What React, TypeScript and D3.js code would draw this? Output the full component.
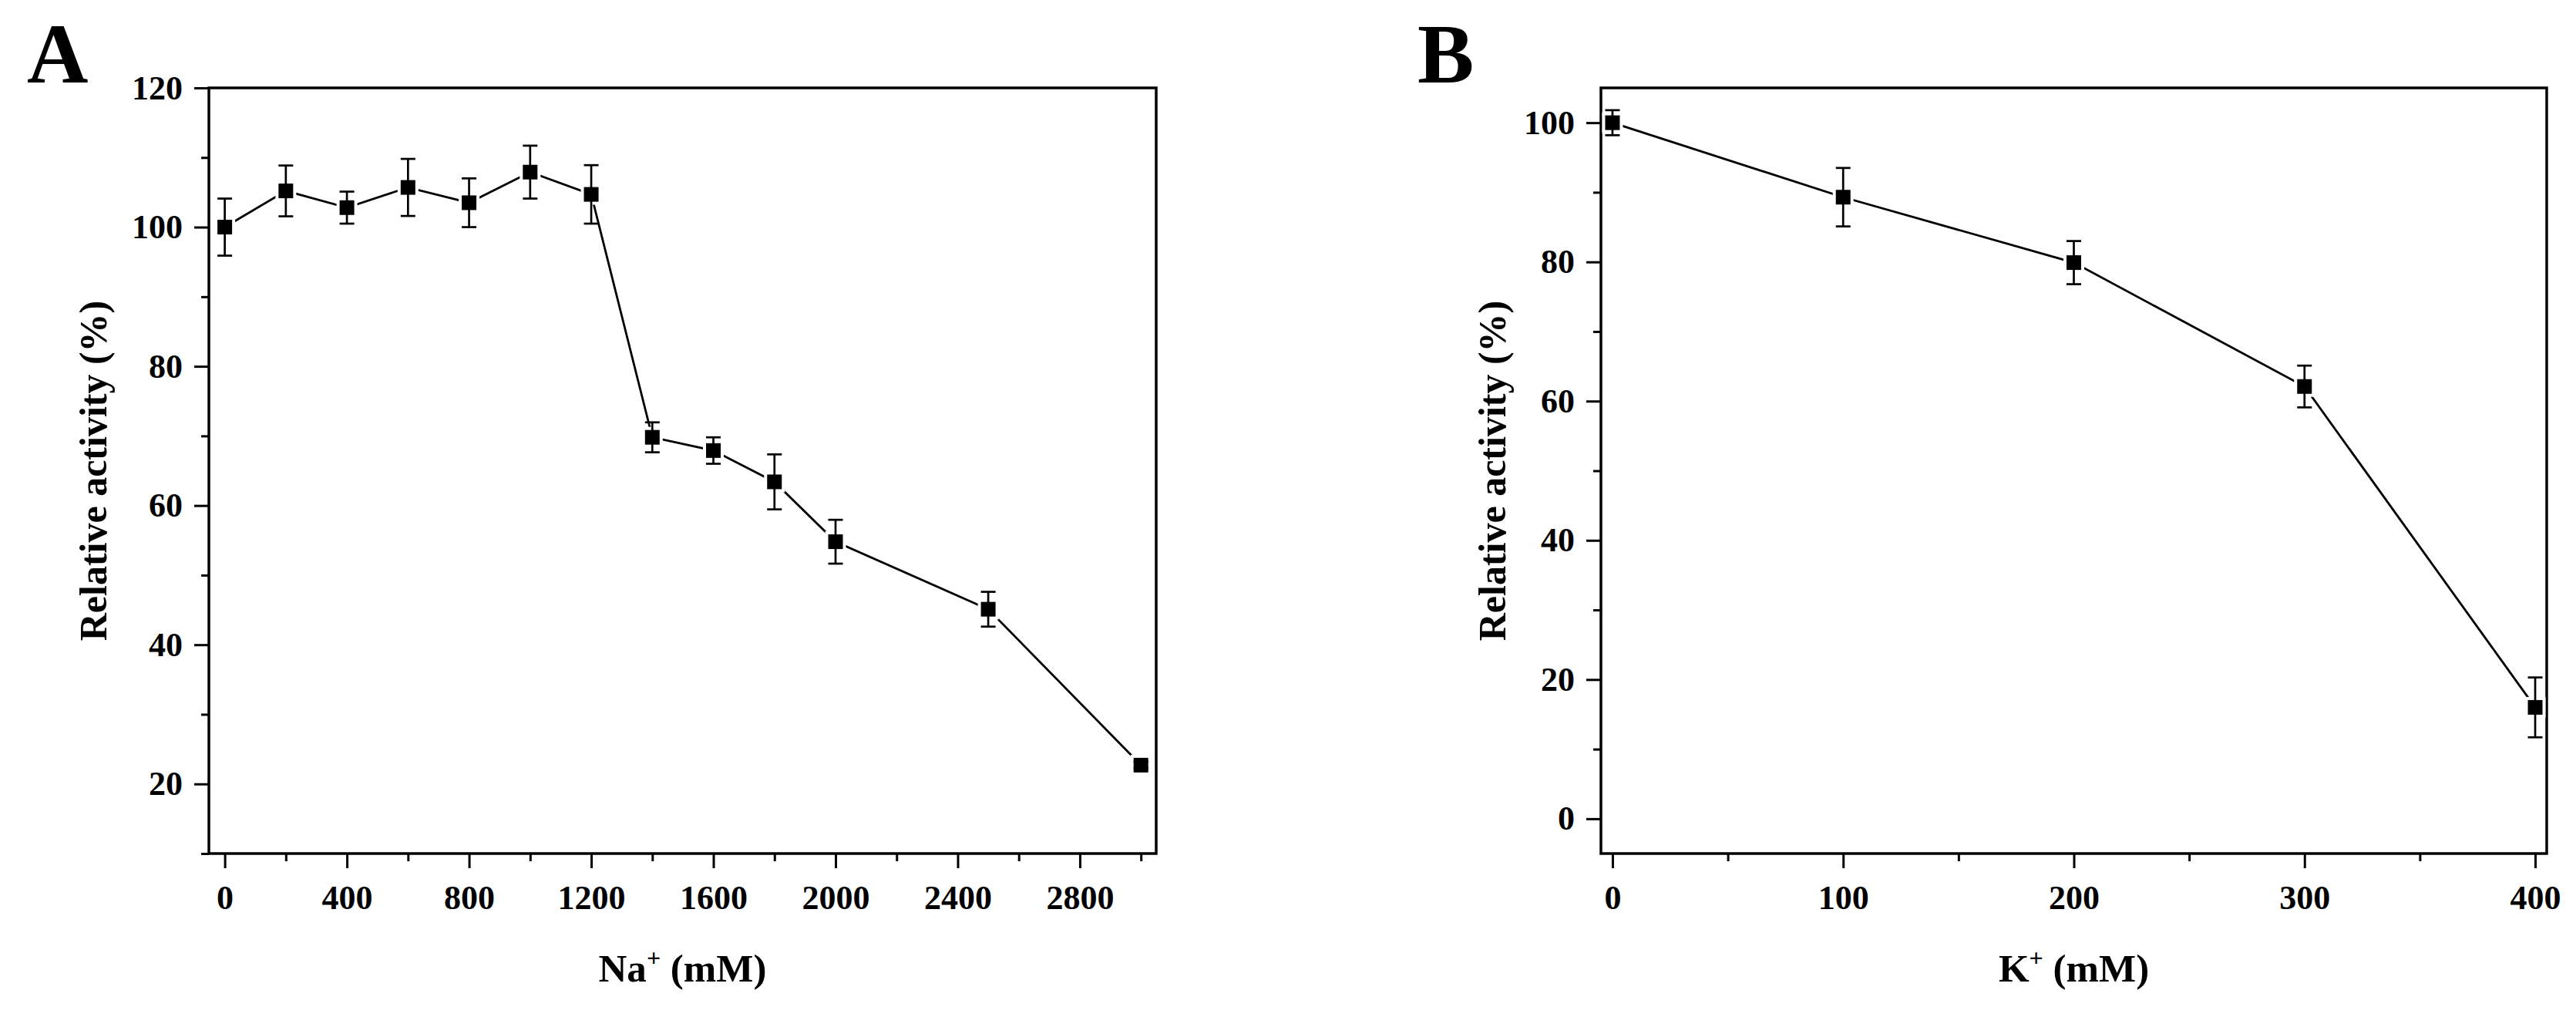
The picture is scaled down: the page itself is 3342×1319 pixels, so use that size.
import React, { useEffect, useRef } from "react";
import * as d3 from "d3";

// ---- Data ----
const naConc = [0, 200, 400, 600, 800, 1000, 1200, 1400, 1600, 1800, 2000, 2500, 3000];
const naActivity = [100.0, 105.2, 102.8, 105.7, 103.5, 107.9, 104.7, 69.8, 67.9, 63.4, 54.8, 45.1, 22.7];
const naError = [4.1, 3.65, 2.3, 4.1, 3.5, 3.8, 4.2, 2.15, 1.9, 3.95, 3.15, 2.5, 0.5];

const kConc = [0, 100, 200, 300, 400];
const kActivity = [100.0, 89.3, 79.9, 62.1, 16.0];
const kError = [1.8, 4.2, 3.1, 3.0, 4.3];

const naXMajor = [0, 400, 800, 1200, 1600, 2000, 2400, 2800];
const naXMinor = [200, 600, 1000, 1400, 1800, 2200, 2600, 3000];
const naYMajor = [20, 40, 60, 80, 100, 120];
const naYMinor = [10, 30, 50, 70, 90, 110];

const kXMajor = [0, 100, 200, 300, 400];
const kXMinor = [50, 150, 250, 350];
const kYMajor = [0, 20, 40, 60, 80, 100];
const kYMinor = [10, 30, 50, 70, 90];

const FONT = "'Liberation Serif', 'Times New Roman', serif";

type PanelCfg = {
  letter: string;
  letterX: number;
  xs: number[];
  ys: number[];
  errs: number[];
  xDomain: [number, number];
  yDomain: [number, number];
  left: number;
  right: number;
  xMajor: number[];
  xMinor: number[];
  yMajor: number[];
  yMinor: number[];
  ion: string;
  yTitleOffset: number;
};

const TOP = 114;
const BOTTOM = 1107;

const panels: PanelCfg[] = [
  {
    letter: "A",
    letterX: 35,
    xs: naConc,
    ys: naActivity,
    errs: naError,
    xDomain: [-52, 3050],
    yDomain: [10, 120],
    left: 271,
    right: 1500,
    xMajor: naXMajor,
    xMinor: naXMinor,
    yMajor: naYMajor,
    yMinor: naYMinor,
    ion: "Na",
    yTitleOffset: 133,
  },
  {
    letter: "B",
    letterX: 1839,
    xs: kConc,
    ys: kActivity,
    errs: kError,
    xDomain: [-5, 405],
    yDomain: [-5, 105],
    left: 2077,
    right: 3304,
    xMajor: kXMajor,
    xMinor: kXMinor,
    yMajor: kYMajor,
    yMinor: kYMinor,
    ion: "K",
    yTitleOffset: 124,
  },
];

export default function App() {
  const ref = useRef<SVGSVGElement | null>(null);

  useEffect(() => {
    const svg = d3.select(ref.current);
    svg.selectAll("*").remove();
    svg.append("rect").attr("width", 3342).attr("height", 1319).attr("fill", "#fff");

    panels.forEach((p) => {
      const x = d3.scaleLinear().domain(p.xDomain).range([p.left, p.right]);
      const y = d3.scaleLinear().domain(p.yDomain).range([BOTTOM, TOP]);
      const g = svg.append("g");

      // panel letter
      g.append("text")
        .attr("x", p.letterX)
        .attr("y", 107)
        .attr("font-family", FONT)
        .attr("font-weight", "bold")
        .attr("font-size", 110)
        .text(p.letter);

      const xAxisMaj = g
        .append("g")
        .attr("transform", `translate(0,${BOTTOM})`)
        .call(
          d3.axisBottom(x).tickValues(p.xMajor).tickSize(19).tickPadding(22).tickFormat(d3.format("d"))
        );
      const xAxisMin = g
        .append("g")
        .attr("transform", `translate(0,${BOTTOM})`)
        .call(d3.axisBottom(x).tickValues(p.xMinor).tickSize(10).tickFormat(() => ""));
      const yAxisMaj = g
        .append("g")
        .attr("transform", `translate(${p.left},0)`)
        .call(
          d3.axisLeft(y).tickValues(p.yMajor).tickSize(19).tickPadding(15).tickFormat(d3.format("d"))
        );
      const yAxisMin = g
        .append("g")
        .attr("transform", `translate(${p.left},0)`)
        .call(d3.axisLeft(y).tickValues(p.yMinor).tickSize(10).tickFormat(() => ""));

      [xAxisMaj, xAxisMin, yAxisMaj, yAxisMin].forEach((a) => {
        a.select(".domain").remove();
        a.selectAll(".tick line").attr("stroke", "#000").attr("stroke-width", 3);
        a.selectAll(".tick text")
          .attr("font-family", FONT)
          .attr("font-weight", "bold")
          .attr("font-size", 44)
          .attr("fill", "#000");
      });

      // frame
      g.append("rect")
        .attr("x", p.left)
        .attr("y", TOP)
        .attr("width", p.right - p.left)
        .attr("height", BOTTOM - TOP)
        .attr("fill", "none")
        .attr("stroke", "#000")
        .attr("stroke-width", 3.5);

      const pts = p.xs.map((v, i) => ({ x: v, y: p.ys[i], e: p.errs[i] }));

      const line = d3
        .line<{ x: number; y: number }>()
        .x((d) => x(d.x))
        .y((d) => y(d.y));
      g.append("path")
        .datum(pts)
        .attr("d", line)
        .attr("fill", "none")
        .attr("stroke", "#000")
        .attr("stroke-width", 2.8);

      const ms = 19;
      const halo = 4;
      g.selectAll(".halo")
        .data(pts)
        .join("rect")
        .attr("x", (d) => x(d.x) - ms / 2 - halo)
        .attr("y", (d) => y(d.y) - ms / 2 - halo)
        .attr("width", ms + 2 * halo)
        .attr("height", ms + 2 * halo)
        .attr("fill", "#fff");

      const eb = g.selectAll(".eb").data(pts).join("g");
      eb.append("line")
        .attr("x1", (d) => x(d.x))
        .attr("x2", (d) => x(d.x))
        .attr("y1", (d) => y(d.y + d.e))
        .attr("y2", (d) => y(d.y - d.e))
        .attr("stroke", "#000")
        .attr("stroke-width", 2.7);
      eb.append("line")
        .attr("x1", (d) => x(d.x) - ms / 2)
        .attr("x2", (d) => x(d.x) + ms / 2)
        .attr("y1", (d) => y(d.y + d.e))
        .attr("y2", (d) => y(d.y + d.e))
        .attr("stroke", "#000")
        .attr("stroke-width", 2.7);
      eb.append("line")
        .attr("x1", (d) => x(d.x) - ms / 2)
        .attr("x2", (d) => x(d.x) + ms / 2)
        .attr("y1", (d) => y(d.y - d.e))
        .attr("y2", (d) => y(d.y - d.e))
        .attr("stroke", "#000")
        .attr("stroke-width", 2.7);

      g.selectAll(".mk")
        .data(pts)
        .join("rect")
        .attr("x", (d) => x(d.x) - ms / 2)
        .attr("y", (d) => y(d.y) - ms / 2)
        .attr("width", ms)
        .attr("height", ms)
        .attr("fill", "#000");

      const xt = g
        .append("text")
        .attr("x", (p.left + p.right) / 2)
        .attr("y", 1273)
        .attr("text-anchor", "middle")
        .attr("font-family", FONT)
        .attr("font-weight", "bold")
        .attr("font-size", 51);
      xt.append("tspan").text(p.ion);
      xt.append("tspan").attr("font-size", 32).attr("dy", -20).text("+");
      xt.append("tspan").attr("dy", 20).text(" (mM)");

      g.append("text")
        .attr("transform", `translate(${p.left - p.yTitleOffset},${(TOP + BOTTOM) / 2}) rotate(-90)`)
        .attr("text-anchor", "middle")
        .attr("font-family", FONT)
        .attr("font-weight", "bold")
        .attr("font-size", 50)
        .text("Relative activity (%)");
    });
  }, []);

  return (
    <svg
      ref={ref}
      width={3342}
      height={1319}
      style={{ position: "absolute", left: 0, top: 0, display: "block" }}
    />
  );
}
